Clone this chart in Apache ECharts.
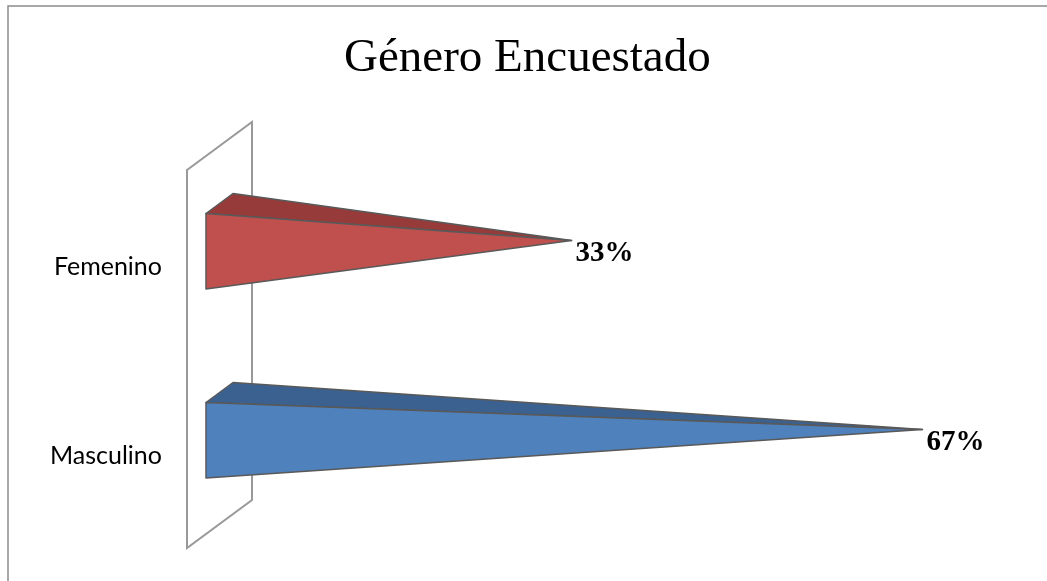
<!DOCTYPE html>
<html lang="es">
<head>
<meta charset="UTF-8">
<title>Género Encuestado</title>
<script src="https://cdn.jsdelivr.net/npm/echarts@6/dist/echarts.min.js"></script>
<style>
    html, body { margin: 0; padding: 0; background: #fff; }
    #chart { width: 1047px; height: 581px; }
</style>
</head>
<body>
<div id="chart"></div>
<script>
    // datos (de abajo hacia arriba, como en Excel)
    const categorias = ['Masculino', 'Femenino'];
    const porcentajes = [67, 33];
    const frente = ['#4F81BD', '#C0504D'];
    const arriba = ['#3B6190', '#963B39'];

    const chart = echarts.init(document.getElementById('chart'));

    // pared 3D detras de las barras
    function renderPared(params, api) {
        const cs = params.coordSys;
        const x0 = api.coord([0, 0])[0];
        const fx = x0 - 44, bx = x0 + 21;
        const top = cs.y, bot = cs.y + cs.height;
        return {
            type: 'polygon',
            shape: { points: [[fx, top + 24], [bx, top - 24], [bx, bot - 24], [fx, bot + 24]] },
            style: { fill: '#fff', stroke: '#999', lineWidth: 2 }
        };
    }

    // piramide horizontal
    function renderPiramide(params, api) {
        const i = api.value(0);
        const tip = api.coord([api.value(1), i]);
        const x0 = api.coord([0, i])[0];
        const band = api.size([0, 1])[1];
        const c = tip[1];
        const h = band * 0.4;
        const fx = x0 - 25, bx = x0 + 2;
        const ft = c - 27, fb = ft + h, bt = c - 47;
        return {
            type: 'group',
            children: [
                {
                    type: 'polygon',
                    shape: { points: [[fx, ft], [bx, bt], tip] },
                    style: { fill: arriba[i], stroke: '#595959', lineWidth: 1.5, lineJoin: 'round' }
                },
                {
                    type: 'polygon',
                    shape: { points: [[fx, ft], [fx, fb], tip] },
                    style: { fill: frente[i], stroke: '#595959', lineWidth: 1.5, lineJoin: 'round' }
                },
                {
                    type: 'text',
                    x: tip[0] + 4,
                    y: tip[1] + 13,
                    style: {
                        text: api.value(1) + '%',
                        fontFamily: 'Liberation Serif',
                        fontWeight: 'bold',
                        fontSize: 29,
                        fill: '#000',
                        verticalAlign: 'middle'
                    }
                }
            ]
        };
    }

    chart.setOption({
        animation: false,
        title: {
            text: 'Género Encuestado',
            left: 339,
            top: 30,
            textStyle: { fontFamily: 'Liberation Serif', fontWeight: 'normal', fontSize: 47, color: '#000' }
        },
        graphic: [{
            type: 'rect',
            shape: { x: 8, y: 6, width: 1100, height: 620 },
            style: { fill: 'none', stroke: '#8c8c8c', lineWidth: 1.5 },
            silent: true
        }],
        grid: { left: 231, right: 42, top: 146, bottom: 57 },
        xAxis: { type: 'value', min: 0, max: 75, show: false },
        yAxis: {
            type: 'category',
            data: categorias,
            axisLine: { show: false },
            axisTick: { show: false },
            splitLine: { show: false },
            axisLabel: {
                margin: 69,
                formatter: (v) => '\n' + v,
                lineHeight: 53,
                fontFamily: 'Lato',
                fontSize: 25,
                color: '#000'
            }
        },
        series: [
            {
                type: 'custom',
                renderItem: renderPared,
                data: [[0]],
                z: 1,
                silent: true
            },
            {
                type: 'custom',
                renderItem: renderPiramide,
                data: porcentajes.map((v, i) => [i, v]),
                encode: { x: 1, y: 0 },
                z: 2
            }
        ]
    });
</script>
</body>
</html>
